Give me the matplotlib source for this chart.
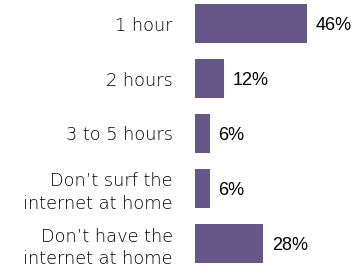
import matplotlib
matplotlib.use("Agg")
import matplotlib.pyplot as plt

categories = ["1 hour", "2 hours", "3 to 5 hours",
              "Don\u2019t surf the\ninternet at home",
              "Don\u2019t have the\ninternet at home"]
values = [46, 12, 6, 6, 28]
value_labels = ["46%", "12%", "6%", "6%", "28%"]

bar_color = "#655787"

fig = plt.figure(figsize=(3.54, 2.68), dpi=100)
ax = fig.add_axes([195 / 354, 0, 159 / 354, 1])

y = list(range(len(categories)))
ax.barh(y, values, height=0.71, color=bar_color)

ax.set_xlim(0, 159 / 2.43)
ax.set_ylim(4 + 24.5 / 55, -23.5 / 55)

# light weight, letters spaced out like the original
ax.set_yticks(y)
ax.set_yticklabels(categories, fontsize=12.8, color="#000000",
                   family="DejaVu Sans", fontweight="light",
                   linespacing=1.3)
ax.tick_params(axis="y", length=0, pad=16)
ax.set_xticks([])
for s in ax.spines.values():
    s.set_visible(False)

for yi, v, lab in zip(y, values, value_labels):
    ax.text(v + 3.6, yi + 0.03, lab, va="center", ha="left",
            fontsize=13, family="Liberation Sans", color="#000000")

fig.savefig("out.png", dpi=100)
